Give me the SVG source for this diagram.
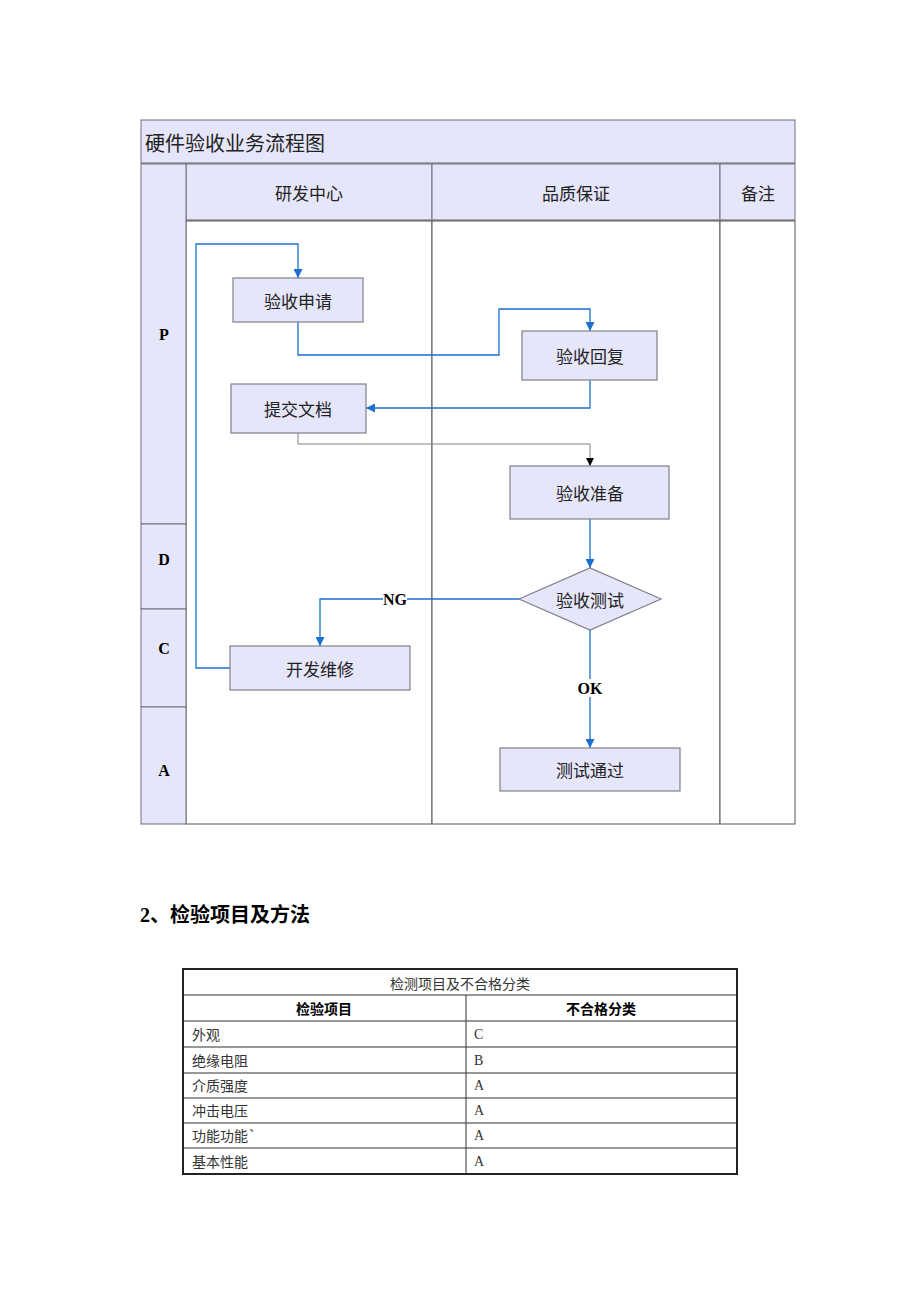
<svg xmlns="http://www.w3.org/2000/svg" width="920" height="1302" viewBox="0 0 920 1302">
<style>
.lane{fill:#e6e6fa;stroke:#6e6e7a;stroke-width:1}
.box{fill:#e6e6fa;stroke:#7f7f8a;stroke-width:1.2}
.t{font-family:"Noto Sans CJK SC",sans-serif;font-size:17px;fill:#222;text-anchor:middle;dominant-baseline:central}
.pd{font-family:"Liberation Serif",serif;font-weight:bold;font-size:16px;fill:#000;text-anchor:middle;dominant-baseline:central}
.c{fill:none;stroke:#1a6fd0;stroke-width:1.3}
.g{fill:none;stroke:#808080;stroke-width:1}
.lbl{font-family:"Liberation Serif",serif;font-size:16px;font-weight:bold;fill:#000;text-anchor:middle;dominant-baseline:central}
.tt{font-family:"Noto Sans CJK SC",sans-serif;font-size:14px;fill:#333;dominant-baseline:central}
.tl{font-family:"Liberation Serif",serif;font-size:14px;fill:#333;dominant-baseline:central}
.th{font-family:"Noto Sans CJK SC",sans-serif;font-size:14px;font-weight:bold;fill:#000;text-anchor:middle;dominant-baseline:central}
.grid{stroke:#333;stroke-width:1}
</style>
<defs>
<marker id="ab" viewBox="0 0 10 10" refX="10" refY="5" markerWidth="9" markerHeight="9" markerUnits="userSpaceOnUse" orient="auto"><path d="M0,0 L10,5 L0,10 z" fill="#1a6fd0"/></marker>
<marker id="ak" viewBox="0 0 10 10" refX="10" refY="5" markerWidth="8" markerHeight="8" markerUnits="userSpaceOnUse" orient="auto"><path d="M0,0 L10,5 L0,10 z" fill="#000"/></marker>
</defs>
<rect width="920" height="1302" fill="#fff"/>
<g id="frame">
<rect x="141" y="120" width="654" height="43" class="lane"/>
<line x1="141" y1="163.5" x2="795" y2="163.5" stroke="#999" stroke-width="2"/>
<text x="145" y="142" font-family="Noto Sans CJK SC,sans-serif" font-size="20" fill="#222" dominant-baseline="central">硬件验收业务流程图</text>
<rect x="186" y="164" width="246" height="56" class="lane"/>
<rect x="432" y="164" width="288" height="56" class="lane"/>
<rect x="720" y="164" width="75" height="56" class="lane"/>
<line x1="186" y1="220.5" x2="795" y2="220.5" stroke="#999" stroke-width="1.5"/>
<text x="309" y="192" class="t">研发中心</text>
<text x="576" y="192" class="t">品质保证</text>
<text x="758" y="192" class="t">备注</text>
<rect x="186" y="221" width="246" height="603" fill="#fff" stroke="#555"/>
<rect x="432" y="221" width="288" height="603" fill="#fff" stroke="#555"/>
<rect x="720" y="221" width="75" height="603" fill="#fff" stroke="#555"/>
<rect x="141" y="164" width="45" height="360" class="lane"/>
<rect x="141" y="524" width="45" height="85" class="lane"/>
<rect x="141" y="609" width="45" height="98" class="lane"/>
<rect x="141" y="707" width="45" height="117" class="lane"/>
<text x="164" y="334" class="pd">P</text>
<text x="164" y="559" class="pd">D</text>
<text x="164" y="648" class="pd">C</text>
<text x="164" y="770" class="pd">A</text>
</g>
<g id="connectors">
<path d="M230,668 H196 V244 H298 V278" class="c" marker-end="url(#ab)"/>
<path d="M298,322 V355 H499 V309 H590 V331" class="c" marker-end="url(#ab)"/>
<path d="M590,380 V408 H366" class="c" marker-end="url(#ab)"/>
<path d="M298,433 V444 H590 V466" class="g" marker-end="url(#ak)"/>
<path d="M590,519 V568" class="c" marker-end="url(#ab)"/>
<path d="M519,599 H320 V646" class="c" marker-end="url(#ab)"/>
<path d="M590,630 V748" class="c" marker-end="url(#ab)"/>
<rect x="383" y="590" width="24" height="18" fill="#fff"/>
<text x="395" y="599" class="lbl">NG</text>
<rect x="578" y="679" width="24" height="18" fill="#fff"/>
<text x="590" y="688" class="lbl">OK</text>
</g>
<g id="n1"><rect x="233" y="278" width="130" height="44" class="box"/><text x="298" y="300" class="t">验收申请</text></g>
<g id="n2"><rect x="522" y="331" width="135" height="49" class="box"/><text x="590" y="355" class="t">验收回复</text></g>
<g id="n3"><rect x="231" y="384" width="135" height="49" class="box"/><text x="298" y="408" class="t">提交文档</text></g>
<g id="n4"><rect x="510" y="466" width="159" height="53" class="box"/><text x="590" y="492" class="t">验收准备</text></g>
<g id="n5"><polygon points="519,599 590,568 661,599 590,630" class="box"/><text x="590" y="599" class="t">验收测试</text></g>
<g id="n6"><rect x="230" y="646" width="180" height="44" class="box"/><text x="320" y="668" class="t">开发维修</text></g>
<g id="n7"><rect x="500" y="748" width="180" height="43" class="box"/><text x="590" y="769" class="t">测试通过</text></g>
<g id="section">
<text x="140" y="915" font-family="Liberation Serif,Noto Sans CJK SC,serif" font-size="20" font-weight="bold" fill="#000" dominant-baseline="central">2、检验项目及方法</text>
</g>
<g id="table">
<rect x="183" y="969" width="554" height="205" fill="#fff" stroke="#222" stroke-width="2"/>
<line x1="183" y1="995" x2="737" y2="995" class="grid"/>
<line x1="183" y1="1021" x2="737" y2="1021" class="grid"/>
<line x1="183" y1="1047" x2="737" y2="1047" class="grid"/>
<line x1="183" y1="1073" x2="737" y2="1073" class="grid"/>
<line x1="183" y1="1098" x2="737" y2="1098" class="grid"/>
<line x1="183" y1="1123" x2="737" y2="1123" class="grid"/>
<line x1="183" y1="1148" x2="737" y2="1148" class="grid"/>
<line x1="466" y1="995" x2="466" y2="1174" class="grid"/>
<text x="460" y="983" class="tt" text-anchor="middle">检测项目及不合格分类</text>
<text x="324" y="1008" class="th">检验项目</text>
<text x="601" y="1008" class="th">不合格分类</text>
<text x="192" y="1034" class="tt">外观</text><text x="474" y="1034" class="tl">C</text>
<text x="192" y="1060" class="tt">绝缘电阻</text><text x="474" y="1060" class="tl">B</text>
<text x="192" y="1085" class="tt">介质强度</text><text x="474" y="1085" class="tl">A</text>
<text x="192" y="1110" class="tt">冲击电压</text><text x="474" y="1110" class="tl">A</text>
<text x="192" y="1135" class="tt">功能功能`</text><text x="474" y="1135" class="tl">A</text>
<text x="192" y="1161" class="tt">基本性能</text><text x="474" y="1161" class="tl">A</text>
</g>
</svg>
